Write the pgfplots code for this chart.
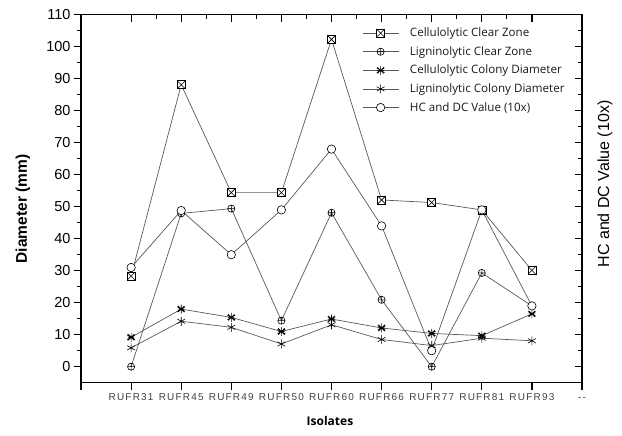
\documentclass[border=0pt]{standalone}
\usepackage{fontspec}
\setmainfont{Liberation Sans}
\newfontfamily\legfont{Open Sans}
\usepackage{pgfplots}
\usepackage{pgfplotstable}
\pgfplotsset{compat=1.18}

\pgfdeclareplotmark{boxx}{%
  \pgfpathrectangle{\pgfqpoint{-\pgfplotmarksize}{-\pgfplotmarksize}}{\pgfqpoint{2\pgfplotmarksize}{2\pgfplotmarksize}}%
  \pgfusepathqfillstroke
  \pgfpathmoveto{\pgfqpoint{-\pgfplotmarksize}{-\pgfplotmarksize}}\pgfpathlineto{\pgfqpoint{\pgfplotmarksize}{\pgfplotmarksize}}%
  \pgfpathmoveto{\pgfqpoint{-\pgfplotmarksize}{\pgfplotmarksize}}\pgfpathlineto{\pgfqpoint{\pgfplotmarksize}{-\pgfplotmarksize}}%
  \pgfusepathqstroke}
\pgfdeclareplotmark{starx}{%
  \pgfpathmoveto{\pgfpointpolar{90}{\pgfplotmarksize}}\pgfpathlineto{\pgfpointpolar{270}{\pgfplotmarksize}}%
  \pgfpathmoveto{\pgfpointpolar{30}{\pgfplotmarksize}}\pgfpathlineto{\pgfpointpolar{210}{\pgfplotmarksize}}%
  \pgfpathmoveto{\pgfpointpolar{150}{\pgfplotmarksize}}\pgfpathlineto{\pgfpointpolar{330}{\pgfplotmarksize}}%
  \pgfpathmoveto{\pgfpointpolar{45}{\pgfplotmarksize}}\pgfpathlineto{\pgfpointpolar{225}{\pgfplotmarksize}}%
  \pgfpathmoveto{\pgfpointpolar{135}{\pgfplotmarksize}}\pgfpathlineto{\pgfpointpolar{315}{\pgfplotmarksize}}%
  \pgfpathmoveto{\pgfpointpolar{0}{0.7\pgfplotmarksize}}\pgfpathlineto{\pgfpointpolar{180}{0.7\pgfplotmarksize}}%
  \pgfusepathqstroke}

\pgfplotstableread{
x cz lz cc lc hd
1 28.3 0 9.2 5.9 31
2 88.1 47.9 18.0 14.2 48.8
3 54.4 49.4 15.4 12.3 35
4 54.4 14.4 11.0 7.1 49
5 102.3 48.1 14.9 13.1 68
6 52.1 20.9 12.1 8.5 44
7 51.3 0 10.4 6.6 5
8 49.0 29.3 9.7 8.9 49
9 30.1 19.0 16.5 8.1 19
}\datatable

\pgfplotsset{
  common/.style={
    at={(81pt,53.3pt)}, anchor=south west,
    scale only axis, width=501pt, height=368pt,
    xmin=0, xmax=10, ymin=-5, ymax=110,
    axis line style={line width=1.4pt},
    every tick/.style={line width=1.2pt, black},
    major tick length=7pt, minor tick length=4pt,
  },
  dline/.style={color=black!65, line width=0.7pt},
  mk/.style={mark options={solid, black, line width=0.6pt, fill=white}},
}

\begin{document}
\begin{tikzpicture}[x=1pt,y=1pt]
\path[use as bounding box] (0,0) rectangle (622,436);
\begin{axis}[common,
  xtick={0,1,...,10},
  xticklabels={,RUFR31,RUFR45,RUFR49,RUFR50,RUFR60,RUFR66,RUFR77,RUFR81,RUFR93,{\vphantom{R}-{}-}},
  ytick={0,10,...,110},
  minor y tick num=1,
  xtick pos=left, ytick pos=left,
  tick align=outside,
  xticklabel style={font=\fontsize{10}{12}\selectfont\addfontfeature{LetterSpace=12}, text=black!75},
  yticklabel style={font=\fontsize{14.5}{16}\selectfont},
  /pgf/number format/assume math mode=true,
  ylabel={Diameter (mm)},
  ylabel style={font=\bfseries\fontsize{15.5}{18}\selectfont, at={(rel axis cs:-0.1158,0.472)}, anchor=center},
  xlabel={Isolates},
  xlabel style={font=\legfont\bfseries\fontsize{12}{14}\selectfont, at={(rel axis cs:0.497,-0.1040)}, anchor=center},
  legend style={at={(0.561,0.970)}, anchor=north west, draw=none, fill=none, inner sep=0pt,
    font=\legfont\fontsize{11.6}{13}\selectfont, text=black!90, row sep=4.3pt,
    /tikz/every odd column/.append style={column sep=9pt}},
  legend cell align=left,
  legend image code/.code={\draw[mark repeat=2,mark phase=2,#1] plot coordinates {(0pt,0pt) (18pt,0pt) (36pt,0pt)};},
]
\addplot[dline, mark=boxx, mark size=4pt, mk] table[x=x,y=cz]{\datatable};
\addlegendentry{Cellulolytic Clear Zone}
\addplot[dline, mark=oplus, mark size=3.6pt, mk] table[x=x,y=lz]{\datatable};
\addlegendentry{Ligninolytic Clear Zone}
\addplot[dline, mark=starx, mark size=4.5pt, mk] table[x=x,y=cc]{\datatable};
\addlegendentry{Cellulolytic Colony Diameter}
\addplot[dline, mark=asterisk, mark size=4.5pt, mk] table[x=x,y=lc]{\datatable};
\addlegendentry{Ligninolytic Colony Diameter}
\addplot[dline, mark=*, mark size=4.2pt, mk] table[x=x,y=hd]{\datatable};
\addlegendentry{HC and DC Value (10x)}
\end{axis}
\begin{axis}[common,
  xtick={1,...,9},
  minor x tick num=1,
  ytick={0,10,...,110},
  minor y tick num=1,
  xtick pos=right, ytick pos=right,
  tick align=inside,
  xticklabels={}, yticklabels={},
  ylabel={HC and DC Value (10x)},
  ylabel style={font=\fontsize{16}{18}\selectfont, at={(rel axis cs:1.0459,0.54)}, anchor=center, rotate=0},
]
\end{axis}
\end{tikzpicture}
\end{document}
